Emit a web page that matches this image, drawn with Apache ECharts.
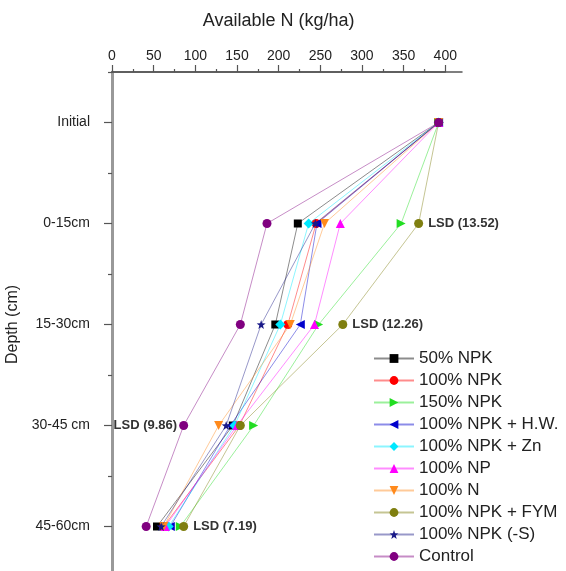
<!DOCTYPE html>
<html><head><meta charset="utf-8">
<script src="https://cdn.jsdelivr.net/npm/echarts@6/dist/echarts.min.js"></script>
<style>html,body{margin:0;padding:0;background:#fff;}#c{width:566px;height:571px;}</style>
</head><body><div id="c"></div>
<script>
const depths = ['Initial', '0-15cm', '15-30cm', '30-45 cm', '45-60cm'];
const xTicks = [0, 50, 100, 150, 200, 250, 300, 350, 400];
const seriesNames = ['50% NPK', '100% NPK', '150% NPK', '100% NPK + H.W.', '100% NPK + Zn', '100% NP', '100% N', '100% NPK + FYM', '100% NPK (-S)', 'Control'];
const npk50    = [392, 223, 196, 145, 54];
const npk100   = [392, 245, 211, 153, 62];
const npk150   = [392, 347, 248, 170, 82];
const npkHW    = [392, 246, 226, 142, 70];
const npkZn    = [392, 236, 202, 147, 68];
const np100    = [392, 274, 243, 150, 64];
const n100     = [392, 255, 214, 128, 62];
const npkFYM   = [392, 368, 277, 154, 86];
const npkNoS   = [392, 244, 179, 137, 59];
const control  = [392, 186, 154, 86, 41];
const lsdText  = ['', 'LSD (13.52)', 'LSD (12.26)', 'LSD (9.86)', 'LSD (7.19)'];
const lsdOn    = ['', '100% NPK + FYM', '100% NPK + FYM', 'Control', '100% NPK + FYM'];

const values = [npk50, npk100, npk150, npkHW, npkZn, np100, n100, npkFYM, npkNoS, control];
const colors = ['#000000', '#ff0000', '#22dd22', '#0000cc', '#00e8ff', '#ff00ff', '#ff8a1c', '#7f7f10', '#1a1a88', '#800080'];
const symbols = [
  'rect', 'circle',
  'path://M0,0 L10,5 L0,10 Z',
  'path://M10,0 L0,5 L10,10 Z',
  'diamond',
  'path://M5,0 L10,10 L0,10 Z',
  'path://M0,0 L10,0 L5,10 Z',
  'circle',
  'path://M5,0 L6.2,3.6 L10,3.8 L7,6.1 L8.1,9.8 L5,7.6 L1.9,9.8 L3,6.1 L0,3.8 L3.8,3.6 Z',
  'circle'
];
const sizes = [8, 9, 9, 9, 10, 9, 9, 9, 9, 9];

const font = 'Arial, "Liberation Sans", sans-serif';

const series = seriesNames.map((name, i) => ({
  name: name,
  type: 'line',
  xAxisIndex: 0, yAxisIndex: 0,
  symbol: symbols[i],
  symbolSize: sizes[i],
  itemStyle: { color: colors[i] },
  lineStyle: { color: colors[i], width: 1, opacity: 0.45 },
  z: 2 + i,
  data: values[i].map((v, k) => {
    const item = { value: [v, depths[k]] };
    if (lsdOn[k] === name) {
      item.label = {
        show: true,
        formatter: lsdText[k],
        position: name === 'Control' ? 'left' : 'right',
        distance: name === 'Control' ? 2 : 5,
        fontFamily: font, fontSize: 13, fontWeight: 'bold', color: '#333'
      };
    }
    return item;
  })
}));

const chart = echarts.init(document.getElementById('c'), null, { renderer: 'canvas' });
chart.setOption({
  animation: false,
  backgroundColor: '#fff',
  textStyle: { fontFamily: font },
  grid: [
    { left: 112, top: 72, width: 333.3, height: 505, containLabel: false, outerBoundsMode: 'none' },
    { left: 112, top: 72, width: 350, height: 505, containLabel: false, outerBoundsMode: 'none' }
  ],
  xAxis: [
    {
      type: 'value', gridIndex: 0, position: 'top',
      min: xTicks[0], max: xTicks[xTicks.length - 1], interval: 50,
      name: 'Available N (kg/ha)', nameLocation: 'middle', nameGap: 42,
      nameTextStyle: { fontFamily: font, fontSize: 18, color: '#222' },
      axisLine: { show: true, lineStyle: { color: '#555', width: 1.5 } },
      axisTick: { show: true, inside: false, length: 7, lineStyle: { color: '#555', width: 1.2 } },
      minorTick: { show: true, splitNumber: 2, length: 3, lineStyle: { color: '#555', width: 1.2 } },
      axisLabel: { fontFamily: font, fontSize: 14, color: '#222', margin: 9 },
      splitLine: { show: false }
    },
    {
      type: 'value', gridIndex: 1, position: 'top', min: 0, max: 420,
      axisLine: { show: true, lineStyle: { color: '#555', width: 1.5 } },
      axisTick: { show: false }, axisLabel: { show: false }, splitLine: { show: false }
    }
  ],
  yAxis: [
    {
      type: 'category', gridIndex: 0, inverse: true, data: depths, boundaryGap: true,
      name: 'Depth (cm)', nameLocation: 'middle', nameGap: 84, nameRotate: 90,
      nameTextStyle: { fontFamily: font, fontSize: 16, color: '#222' },
      axisLine: { show: true, lineStyle: { color: '#999', width: 3 } },
      axisTick: { show: true, alignWithLabel: true, length: 8, lineStyle: { color: '#555', width: 1.2 } },
      axisLabel: { fontFamily: font, fontSize: 14, color: '#222', margin: 22 },
      splitLine: { show: false }
    },
    {
      type: 'category', gridIndex: 1, inverse: true, data: depths, boundaryGap: true,
      axisLine: { show: false },
      axisTick: { show: true, alignWithLabel: false, length: 4, lineStyle: { color: '#555', width: 1.2 } },
      axisLabel: { show: false }, splitLine: { show: false }
    }
  ],
  legend: {
    orient: 'vertical', left: 373, top: 350, padding: 0,
    itemWidth: 40, itemHeight: 11, itemGap: 5,
    data: seriesNames,
    textStyle: { fontFamily: font, fontSize: 17, color: '#222' }
  },
  series: series
});
</script>
</body></html>
